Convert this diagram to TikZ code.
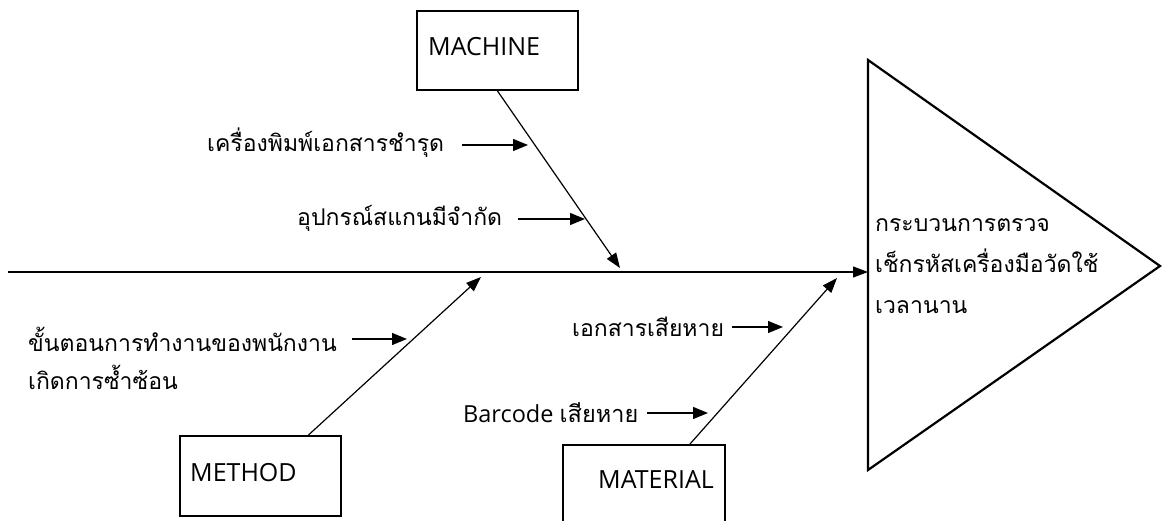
\documentclass[tikz,border=0pt]{standalone}
\usepackage{fontspec}
\setmainfont{Open Sans}
\newfontfamily\thai[Script=Thai]{Loma}
\usetikzlibrary{arrows.meta,calc}
\begin{document}
\begin{tikzpicture}[x=1pt,y=-1pt,
  boxnode/.style={draw,line width=2pt,minimum width=161pt,minimum height=79pt,inner sep=0pt},
  lbl/.style={font=\fontsize{25}{30}\selectfont,inner sep=0pt,anchor=west},
  thlbl/.style={font=\thai\fontsize{23}{38}\selectfont,inner sep=0pt,anchor=west,align=left},
  bone/.style={line width=1.2pt,-{Triangle[length=15pt,width=11pt]}},
  cause/.style={line width=1.3pt,-{Triangle[length=15pt,width=12pt]}},
  headtri/.style={line width=2.2pt,line join=miter}]
\useasboundingbox (0,0) rectangle (1163,521);

% category boxes
\node[boxnode] (mach) at (497.5,50.5) {};
\node[lbl] (machl) at (428,47) {MACHINE};
\node[boxnode,minimum height=80pt] (meth) at (260.5,476) {};
\node[lbl] (methl) at (190,473) {METHOD};
\node[boxnode,minimum width=162pt,minimum height=95pt] (mat) at (644,492.5) {};
\node[lbl] (matl) at (598,480) {MATERIAL};

% head
\coordinate (head) at (868,272);
\coordinate (spst) at (8,272);
\coordinate (tritop) at (868,60);
\coordinate (triapex) at (1160,266);
\coordinate (tribot) at (868,470);
\draw[headtri] (tritop) -- (triapex) -- (tribot) -- cycle;
\node[font=\thai\fontsize{23}{41}\selectfont,inner sep=0pt,anchor=west,align=left] (eff) at (875,266)
  {กระบวนการตรวจ\\เช็กรหัสเครื่องมือวัดใช้\\เวลานาน};

% spine
\draw[bone] (spst) -- (head);

% bones
\coordinate (mtip) at (620,268);
\coordinate (metip) at (481,277);
\coordinate (matip) at (837,278);
\draw[bone] (mach.south) -- (mtip);
\draw[bone] ([xshift=48pt]meth.north) -- (metip);
\draw[bone] ([xshift=46pt]mat.north) -- (matip);

% causes
\node[thlbl] (t1) at (207,143) {เครื่องพิมพ์เอกสารชำรุด};
\coordinate (c1s) at (462,145); \coordinate (c1e) at (528,145);
\draw[cause] (c1s) -- (c1e);

\node[thlbl] (t2) at (297,218) {อุปกรณ์สแกนมีจำกัด};
\coordinate (c2s) at (518,219); \coordinate (c2e) at (585,219);
\draw[cause] (c2s) -- (c2e);

\node[thlbl] (t3) at (28,358) {ขั้นตอนการทำงานของพนักงาน\\เกิดการซ้ำซ้อน};
\coordinate (c3s) at (352,339); \coordinate (c3e) at (407,339);
\draw[cause] (c3s) -- (c3e);

\node[thlbl] (t4) at (572,327) {เอกสารเสียหาย};
\coordinate (c4s) at (732,327); \coordinate (c4e) at (783,327);
\draw[cause] (c4s) -- (c4e);

\node[lbl,font=\fontsize{23.5}{28}\selectfont] (t5) at (463,413) {Barcode {\thai เสียหาย}};
\coordinate (c5s) at (647,413); \coordinate (c5e) at (708,413);
\draw[cause] (c5s) -- (c5e);
\end{tikzpicture}
\end{document}
